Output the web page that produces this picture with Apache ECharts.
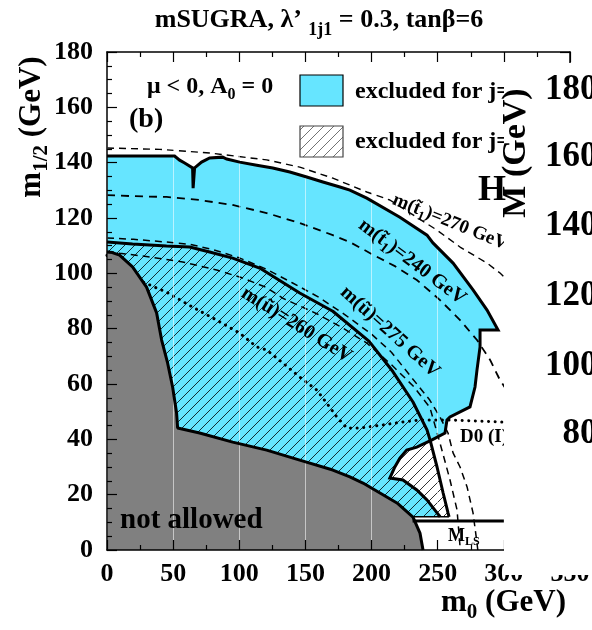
<!DOCTYPE html>
<html><head><meta charset="utf-8">
<script src="https://cdn.jsdelivr.net/npm/echarts@6/dist/echarts.min.js"></script>
<style>html,body{margin:0;padding:0;background:#fff}#c{width:592px;height:630px}</style>
</head><body><div id="c"></div>
<script>
// ---------------- data (m0, m1/2 in GeV) ----------------
const xTickValues = [0, 50, 100, 150, 200, 250, 300, 350];
const yTickValues = [0, 20, 40, 60, 80, 100, 120, 140, 160, 180];
const neighbourTicks = ['180', '160', '140', '120', '100', '80'];

const notAllowedEdge = [[0,107.7],[4,107.5],[9.5,106.6],[19.3,102.3],[29.9,95.0],[37.5,85.7],[41.3,75.9],[45.8,67.6],[49.6,58.9],[52.6,49.5],[53.4,44.1],[70.0,42.3],[95.0,39.0],[120.7,36.1],[145.7,32.5],[170.7,28.9],[183.6,26.4],[193.5,24.2],[219.2,17.0],[231.3,11.9],[236.6,6.1],[238.9,0]];

const cyanOuterEdge = [[0,142.4],[51.1,142.4],[54.9,140.9],[58.7,139.9],[64.7,138.1],[65.1,130.8],[65.9,130.8],[66.2,138.1],[71.5,140.2],[77.6,141.7],[87.4,142.0],[90.5,141.3],[100.3,140.2],[113.2,139.1],[125.3,138.1],[138.2,136.6],[151.0,134.8],[163.2,133.0],[176.1,131.2],[183.6,130.1],[196.4,127.2],[221.4,120.3],[241.9,113.8],[246.4,111.0],[261.6,103.7],[276.7,94.0],[287.3,86.7],[295.6,79.5],[282.0,79.5],[282.0,73.4],[279.7,65.1],[278.2,58.9],[274.4,51.7],[259.3,48.1],[257.0,47.0],[255.5,42.3],[245.7,39.8]];

const pocketEdge = [[245.7,39.8],[234.2,37.2],[226.6,36.1],[221.4,33.2],[217.6,30.0],[213.8,26.0],[223.7,25.3],[234.2,21.7],[241.9,18.1],[249.5,13.4],[251.8,12.0]];

const hatchTopEdge = [[0,111.3],[19.3,110.6],[45.0,109.9],[62.5,109.5],[77.6,107.7],[95.0,105.5],[115.4,101.9],[145.7,92.9],[170.7,86.3],[198,75.5],[216.1,64.5],[231.3,53.5],[241.9,43.4],[244.2,39.8],[249.5,30.0],[254.1,20.6],[257.8,13.4],[258.6,12.0]];

const hatchBottom = [[231.3,12.0],[258.6,12.0]];
const mlsLine = [[231,10.5],[300,10.5]];

const stop270 = [[0,145.3],[40,144.8],[77.6,143.5],[120.7,141.0],[145.7,138.4],[170.7,134.4],[196.4,129.4],[213.8,126.5],[249.5,115.6],[266.9,109.5],[287.3,103.7],[297.1,100.1],[310,94],[330,84]];
const stop240 = [[0,128.3],[19.3,127.9],[45.0,127.6],[70.0,126.5],[95.0,124.7],[120.7,121.8],[145.7,118.2],[170.7,113.8],[183.6,111.3],[200,107],[218,102.5],[234.2,97.6],[251.6,90.4],[266.9,83.1],[279.7,75.9],[289.6,68.7],[297.1,61.4],[310,52]];
const sup275 = [[0,112.8],[20,112.3],[45,111.3],[62.5,110.5],[80,108.6],[100,105.6],[120,101.6],[140,96.6],[160,91.4],[180,85],[200,78],[215,71.5],[230,62.5],[244,54.2],[251.7,48.1],[257.8,42.3],[261.6,35.1],[266.9,30.0],[272.2,22.8],[276.7,13.4],[279.7,2.5],[280.3,0]];
const lowerDashed = [[0,108.0],[9.5,107.3],[32.2,105.9],[57.2,104.1],[82.9,101.2],[102.6,98.3],[120,95],[132.9,91],[158.6,85.4],[178,80.3],[196.4,74.8],[215,67],[232,59],[244.1,51.5],[251.7,38.7],[259.3,25.3],[264.6,14.5],[266.9,1.1],[267,0]];
const sup260 = [[0,106.5],[1.9,104.8],[9.5,103.0],[26.9,96.9],[45.0,93.2],[64.7,87.8],[82.9,83.1],[100.3,78.4],[113.2,73.4],[120.7,72.3],[132.9,67.6],[145.7,62.5],[158.6,57.8],[166.1,53.1],[173.7,48.1],[181.3,44.1],[191.1,44.1],[208.5,45.2],[223.6,46.3],[236.5,47.0],[259.3,47.0],[297.1,46.3],[310,46.3]];

// ---------------- drawing ----------------
const FONT = '"Liberation Serif","Times New Roman",serif';
const CYAN = '#66e5ff';
const GREY = '#808080';

function makeHatch(color, lw){
  const c = document.createElement('canvas'); c.width = 10; c.height = 10;
  const g = c.getContext('2d'); g.strokeStyle = color; g.lineWidth = lw;
  g.beginPath(); g.moveTo(-2,12); g.lineTo(12,-2); g.moveTo(-2,2); g.lineTo(2,-2); g.moveTo(8,12); g.lineTo(12,8); g.stroke();
  return c;
}
const hatchPlot = {image: makeHatch('rgba(0,0,0,0.8)', 1), repeat: 'repeat'};
const hatchLegend = {image: makeHatch('rgba(0,0,0,0.55)', 1), repeat: 'repeat'};

function polygonSeries(pts, fill, z){
  return {type:'custom', coordinateSystem:'cartesian2d', xAxisIndex:0, yAxisIndex:0, z, silent:true, animation:false,
    data:[[pts[0][0], pts[0][1]]],
    renderItem:(params, api)=>({type:'polygon', shape:{points: pts.map(p=>api.coord(p))}, style:{fill: fill}})};
}
function lineSeries(pts, style, z){
  return {type:'line', data:pts, symbol:'none', showSymbol:false, z, silent:true, animation:false, clip:false,
    lineStyle:Object.assign({color:'#000'}, style)};
}

const cyanPolygon = cyanOuterEdge.concat(pocketEdge.slice(1), [[231.3,12.0],[0,0]]);
const hatchPolygon = hatchTopEdge.concat([[231.3,12.0],[0,0]]);
const greyPolygon = notAllowedEdge.concat([[0,0]]);

const tickStyle = {color:'#000', width:1.2};
function xAx(pos, labels){
  return {type:'value', min:0, max:350, interval:50, position:pos, z:5,
    axisLine:{show:true, onZero:false, lineStyle:{color:'#000', width:1.5}},
    axisTick:{show:true, inside:true, length:10, lineStyle:tickStyle},
    minorTick:{show:true, splitNumber:2, length:5, lineStyle:tickStyle},
    axisLabel:{show:labels, fontFamily:FONT, fontWeight:'bold', fontSize:26, color:'#000', margin:11,
      formatter:v=>xTickValues.includes(v)?String(v):''},
    splitLine:{show:labels, lineStyle:{color:'rgba(255,255,255,0.55)', width:1}}};
}
function yAx(pos, labels){
  return {type:'value', min:0, max:180, interval:20, position:pos, z:6,
    axisLine:{show:true, onZero:false, lineStyle:{color:'#000', width:1.5}},
    axisTick:{show:true, inside:true, length:10, lineStyle:tickStyle},
    minorTick:{show:true, splitNumber:4, length:5, lineStyle:tickStyle},
    axisLabel:{show:labels, fontFamily:FONT, fontWeight:'bold', fontSize:26, color:'#000', margin:14,
      formatter:v=>yTickValues.includes(v)?String(v):''},
    splitLine:{show:false}};
}

const chart = echarts.init(document.getElementById('c'), null, {renderer:'canvas'});
chart.setOption({
  animation:false,
  grid:{left:107, top:52, width:463, height:498, containLabel:false, outerBoundsMode:'none'},
  xAxis:[xAx('bottom', true), xAx('top', false)],
  yAxis:[yAx('left', true), yAx('right', false)],
  series:[
    polygonSeries(cyanPolygon, CYAN, 1),
    polygonSeries(hatchPolygon, hatchPlot, 2),
    lineSeries(stop270, {type:[7,5], width:1.4}, 3),
    lineSeries(stop240, {type:[8,6], width:1.8}, 3),
    lineSeries(sup275, {type:[7,5], width:1.5}, 3),
    lineSeries(lowerDashed, {type:[7,5], width:1.5}, 3),
    lineSeries(sup260, {type:[0.1,6.5], width:3, cap:'round'}, 3),
    polygonSeries(greyPolygon, GREY, 4),
    lineSeries(cyanOuterEdge.concat(pocketEdge.slice(1)), {width:3, join:'miter'}, 6),
    lineSeries(hatchTopEdge, {width:3}, 6),
    lineSeries(notAllowedEdge, {width:3}, 6),
    lineSeries(hatchBottom, {width:1.5}, 6),
    lineSeries(mlsLine, {width:3}, 6)
  ]
});

// ---------------- text graphics ----------------
const mctx = document.createElement('canvas').getContext('2d');
function fontStr(size){ return 'bold ' + size + 'px ' + FONT; }
function tw(t, size){ mctx.font = fontStr(size); return mctx.measureText(t).width; }
function richGroup(parts, x, y, align, rotDeg, z){
  const zz = z || 50;
  const total = parts.reduce((s,p)=>s+tw(p[0],p[1]),0);
  let cx = align==='center' ? -total/2 : (align==='right' ? -total : 0);
  const children = [];
  for (const p of parts){
    children.push({type:'text', x:cx, y:p[2]||0, z:zz, style:{text:p[0], font:fontStr(p[1]), fill:'#000', align:'left', verticalAlign:'middle'}});
    cx += tw(p[0], p[1]);
  }
  return {type:'group', x, y, rotation:(rotDeg||0)*Math.PI/180, children, z:zz};
}
const px = p => chart.convertToPixel({xAxisIndex:0, yAxisIndex:0}, p);

const lab270 = px([259.3,118.5]), lab240 = px([230.6,104.1]), lab275 = px([213.9,78.8]), lab260 = px([143.4,81.3]);
const d0 = px([266.9,40.8]), mls = px([257.8,4.9]);

const graphics = [
  richGroup([['mSUGRA, λ’ ',26,0],['1j1',18,10],[' = 0.3, tanβ=6',26,0]], 319, 20, 'center', 0),
  richGroup([['μ < 0, A',24,0],['0',16,8],[' = 0',24,0]], 147, 87, 'left', 0),
  richGroup([['(b)',28,0]], 129, 120, 'left', 0),
  richGroup([['not allowed',29,0]], 120, 521, 'left', 0),
  {type:'rect', shape:{x:300, y:75, width:43, height:31}, style:{fill:CYAN, stroke:'#000', lineWidth:1.2}, z:50},
  {type:'rect', shape:{x:300, y:126, width:43, height:31}, style:{fill:hatchLegend, stroke:'#444', lineWidth:1.2}, z:50},
  richGroup([['excluded for j=1',24,0]], 355, 92, 'left', 0),
  richGroup([['excluded for j=2',24,0]], 355, 142, 'left', 0),
  richGroup([['m(t\u0303',19,0],['1',13,6],[')=270 GeV',19,0]], lab270[0], lab270[1], 'center', -22),
  richGroup([['m(t\u0303',20,0],['1',14,6],[')=240 GeV',20,0]], lab240[0], lab240[1], 'center', -37),
  richGroup([['m(u\u0303)=275 GeV',20,0]], lab275[0], lab275[1], 'center', -42),
  richGroup([['m(u\u0303)=260 GeV',20,0]], lab260[0], lab260[1], 'center', -32),
  richGroup([['D0 (I)',19,0]], d0[0], d0[1], 'left', 0),
  richGroup([['M',18,0],['LS',12,5]], mls[0], mls[1], 'left', 0),
  richGroup([['m',31,0],['0',21,10],[' (GeV)',31,0]], 566, 603, 'right', 0),
  richGroup([['m',31,0],['1/2',21,10],[' (GeV)',31,0]], 32, 127, 'center', 90),
  // neighbouring panel covering the right edge
  {type:'rect', shape:{x:504, y:63, width:90, height:512}, style:{fill:'#fff'}, z:100},
  richGroup([['H',36,0]], 492, 191, 'center', 0, 101),
  richGroup([['M (GeV)',34,0]], 516, 153, 'center', 90, 101)
];
const nY = [90, 157, 226, 296, 366, 434];
neighbourTicks.forEach((t,i)=>{
  graphics.push(richGroup([[t,35,0]], 545 + tw('180',35), nY[i], 'right', 0, 101));
});
chart.setOption({graphic: graphics});
</script>
</body></html>
